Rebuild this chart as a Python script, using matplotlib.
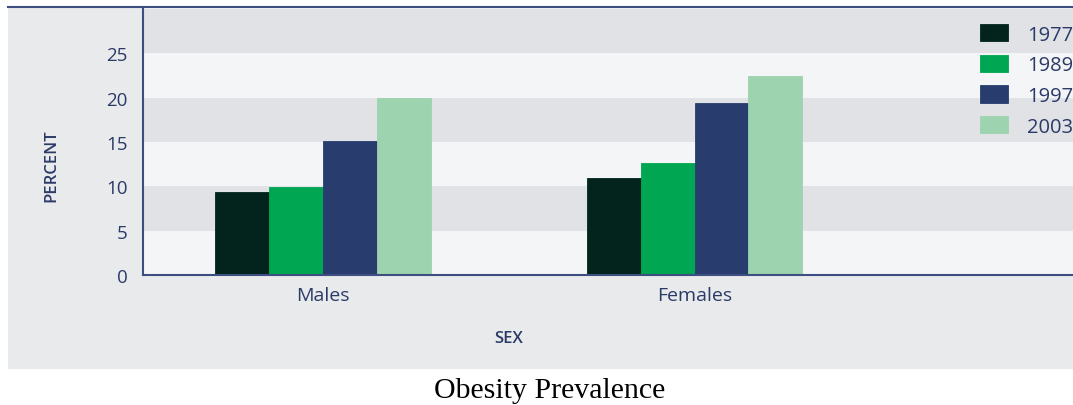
import numpy as np
import matplotlib
matplotlib.use("Agg")
import matplotlib.pyplot as plt
from matplotlib.patches import Rectangle

# Data
categories = ["Males", "Females"]
years = ["1977", "1989", "1997", "2003"]
males = [9.4, 9.9, 15.1, 20.0]
females = [10.9, 12.6, 19.4, 22.4]
y_ticks = [0, 5, 10, 15, 20, 25]

colors = ["#02241c", "#00a651", "#283d6e", "#9dd3ae"]
text_color = "#2b3a67"
spine_color = "#3d4f80"

plt.rcParams["font.family"] = ["Open Sans", "DejaVu Sans"]

fig = plt.figure(figsize=(10.73, 4.06), dpi=100)
fig.patch.set_facecolor("white")

# grey panel behind the chart
fig.patches.append(Rectangle((8 / 1073, 1 - 370 / 406), 1 - 8 / 1073, (370 - 8) / 406,
                             transform=fig.transFigure, facecolor="#e9eaec",
                             edgecolor="none", zorder=-5))
fig.lines.append(plt.Line2D([8 / 1073, 1], [1 - 8 / 406, 1 - 8 / 406],
                            transform=fig.transFigure, color=spine_color, lw=1.5, zorder=5))

ax = fig.add_axes([143 / 1073, 1 - 276 / 406, 1 - 143 / 1073, (276 - 8) / 406])
ax.set_zorder(2)
ax.set_facecolor("#f4f5f7")

ymax = 30.2
ax.set_ylim(0, ymax)
ax.set_xlim(-0.485, 2.019)

# alternating horizontal bands
for lo in range(5, 31, 10):
    ax.axhspan(lo, min(lo + 5, ymax), facecolor="#e1e2e6", edgecolor="none", zorder=0)

series = np.array([males, females]).T
x = np.arange(len(categories))
w = 0.145
for i, (yr, vals) in enumerate(zip(years, series)):
    ax.bar(x + (i - 1.5) * w, vals, width=w, color=colors[i], label=yr,
           edgecolor=colors[i], linewidth=0.6, zorder=2)

ax.set_yticks(y_ticks)
ax.set_xticks(x)
ax.set_xticklabels(categories)
ax.tick_params(axis="both", length=0, colors=text_color)
ax.tick_params(axis="y", labelsize=13.5, pad=11)
ax.tick_params(axis="x", labelsize=14, pad=8)

for side in ["top", "right"]:
    ax.spines[side].set_visible(False)
for side in ["left", "bottom"]:
    ax.spines[side].set_color(spine_color)
    ax.spines[side].set_linewidth(1.5)

fig.text(51 / 1073, 1 - 166 / 406, "PERCENT", rotation=90, ha="center", va="center",
         fontsize=12, fontweight="semibold", color=text_color)
fig.text(509 / 1073, 1 - 339 / 406, "SEX", ha="center", va="center",
         fontsize=12, fontweight="semibold", color=text_color)

fig.text(550 / 1073, 1 - 391 / 406, "Obesity Prevalence", ha="center", va="center",
         fontsize=21.5, family="Liberation Serif", color="black")

leg = fig.legend(loc="upper left", bbox_to_anchor=(980 / 1073, 1 - 25 / 406),
                 frameon=False, fontsize=14.5, handlelength=1.4, handleheight=0.95,
                 handletextpad=0.95, labelspacing=0.5, borderpad=0, borderaxespad=0)
for t in leg.get_texts():
    t.set_color(text_color)

fig.savefig("out.png", dpi=100)
